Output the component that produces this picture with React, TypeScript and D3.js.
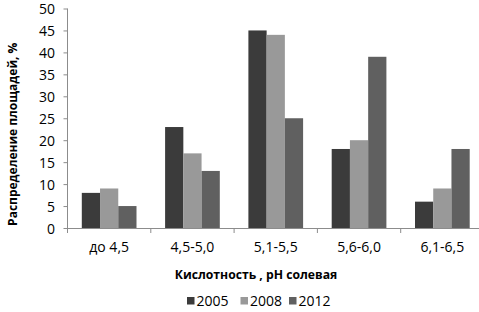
import React from "react";
import * as d3 from "d3";

const categories = ["до 4,5", "4,5-5,0", "5,1-5,5", "5,6-6,0", "6,1-6,5"];
const seriesNames = ["2005", "2008", "2012"];
const values2005 = [8, 23, 45, 18, 6];
const values2008 = [9, 17, 44, 20, 9];
const values2012 = [5, 13, 25, 39, 18];
const yTicks = [0, 5, 10, 15, 20, 25, 30, 35, 40, 45, 50];
const colors = ["#3b3b3b", "#999999", "#606060"];

const W = 479;
const H = 312;
const left = 67.5;
const right = 484;
const top = 8.5;
const bottom = 228;
const font = "'Open Sans', sans-serif";

export default function App() {
  const series = [values2005, values2008, values2012];
  const x = d3.scaleBand<string>().domain(categories).range([left, right]).padding(0);
  const inner = d3
    .scaleBand<string>()
    .domain(seriesNames)
    .range([14.3, x.bandwidth() - 14.3])
    .padding(0);
  const y = d3.scaleLinear().domain([0, 50]).range([bottom, top]);
  const boundaries = categories.map((c) => x(c) as number).concat([right]);
  const legendX = [187, 240.5, 289];

  return (
    <div style={{ position: "fixed", left: 0, top: 0, margin: 0 }}>
      <svg width={W} height={H} style={{ display: "block", background: "#fff" }}>
        {categories.map((c, ci) =>
          series.map((vals, si) => (
            <rect
              key={c + si}
              x={(x(c) as number) + (inner(seriesNames[si]) as number)}
              y={y(vals[ci])}
              width={inner.bandwidth()}
              height={bottom - y(vals[ci])}
              fill={colors[si]}
            />
          ))
        )}
        <line x1={left} x2={left} y1={top} y2={bottom} stroke="#8c8c8c" strokeWidth={1} />
        <line x1={left} x2={right} y1={bottom + 0.5} y2={bottom + 0.5} stroke="#8c8c8c" strokeWidth={1} />
        {boundaries.map((bx, i) => (
          <line key={i} x1={bx} x2={bx} y1={bottom} y2={bottom + 5} stroke="#8c8c8c" strokeWidth={1} />
        ))}
        {yTicks.map((t) => (
          <line key={"t" + t} x1={left - 4} x2={left} y1={y(t) + 0.5} y2={y(t) + 0.5} stroke="#8c8c8c" strokeWidth={1} />
        ))}
        {yTicks.map((t) => (
          <text
            key={t}
            x={55}
            y={y(t) + 1}
            dy="0.35em"
            textAnchor="end"
            fontFamily={font}
            fontSize={14}
            fill="#000"
          >
            {t}
          </text>
        ))}
        {categories.map((c) => (
          <text
            key={c}
            x={(x(c) as number) + x.bandwidth() / 2}
            y={247}
            dy="0.35em"
            textAnchor="middle"
            fontFamily={font}
            fontSize={14}
            fill="#000"
          >
            {c}
          </text>
        ))}
        <text
          transform={`translate(13,${(top + bottom) / 2 + 16}) rotate(-90)`}
          textAnchor="middle"
          dy="0.35em"
          fontFamily={font}
          fontSize={12}
          fontWeight="bold"
          fill="#000"
        >
          Распределение площадей, %
        </text>
        <text
          x={256}
          y={275}
          dy="0.35em"
          textAnchor="middle"
          fontFamily={font}
          fontSize={12.2}
          fontWeight="bold"
          fill="#000"
        >
          Кислотность , pH солевая
        </text>
        {seriesNames.map((s, i) => {
          const lx = legendX[i];
          return (
            <g key={s}>
              <rect x={lx} y={297} width={7.5} height={7.5} fill={colors[i]} />
              <text x={lx + 9.5} y={301} dy="0.35em" fontFamily={font} fontSize={14} fill="#000">
                {s}
              </text>
            </g>
          );
        })}
      </svg>
    </div>
  );
}
